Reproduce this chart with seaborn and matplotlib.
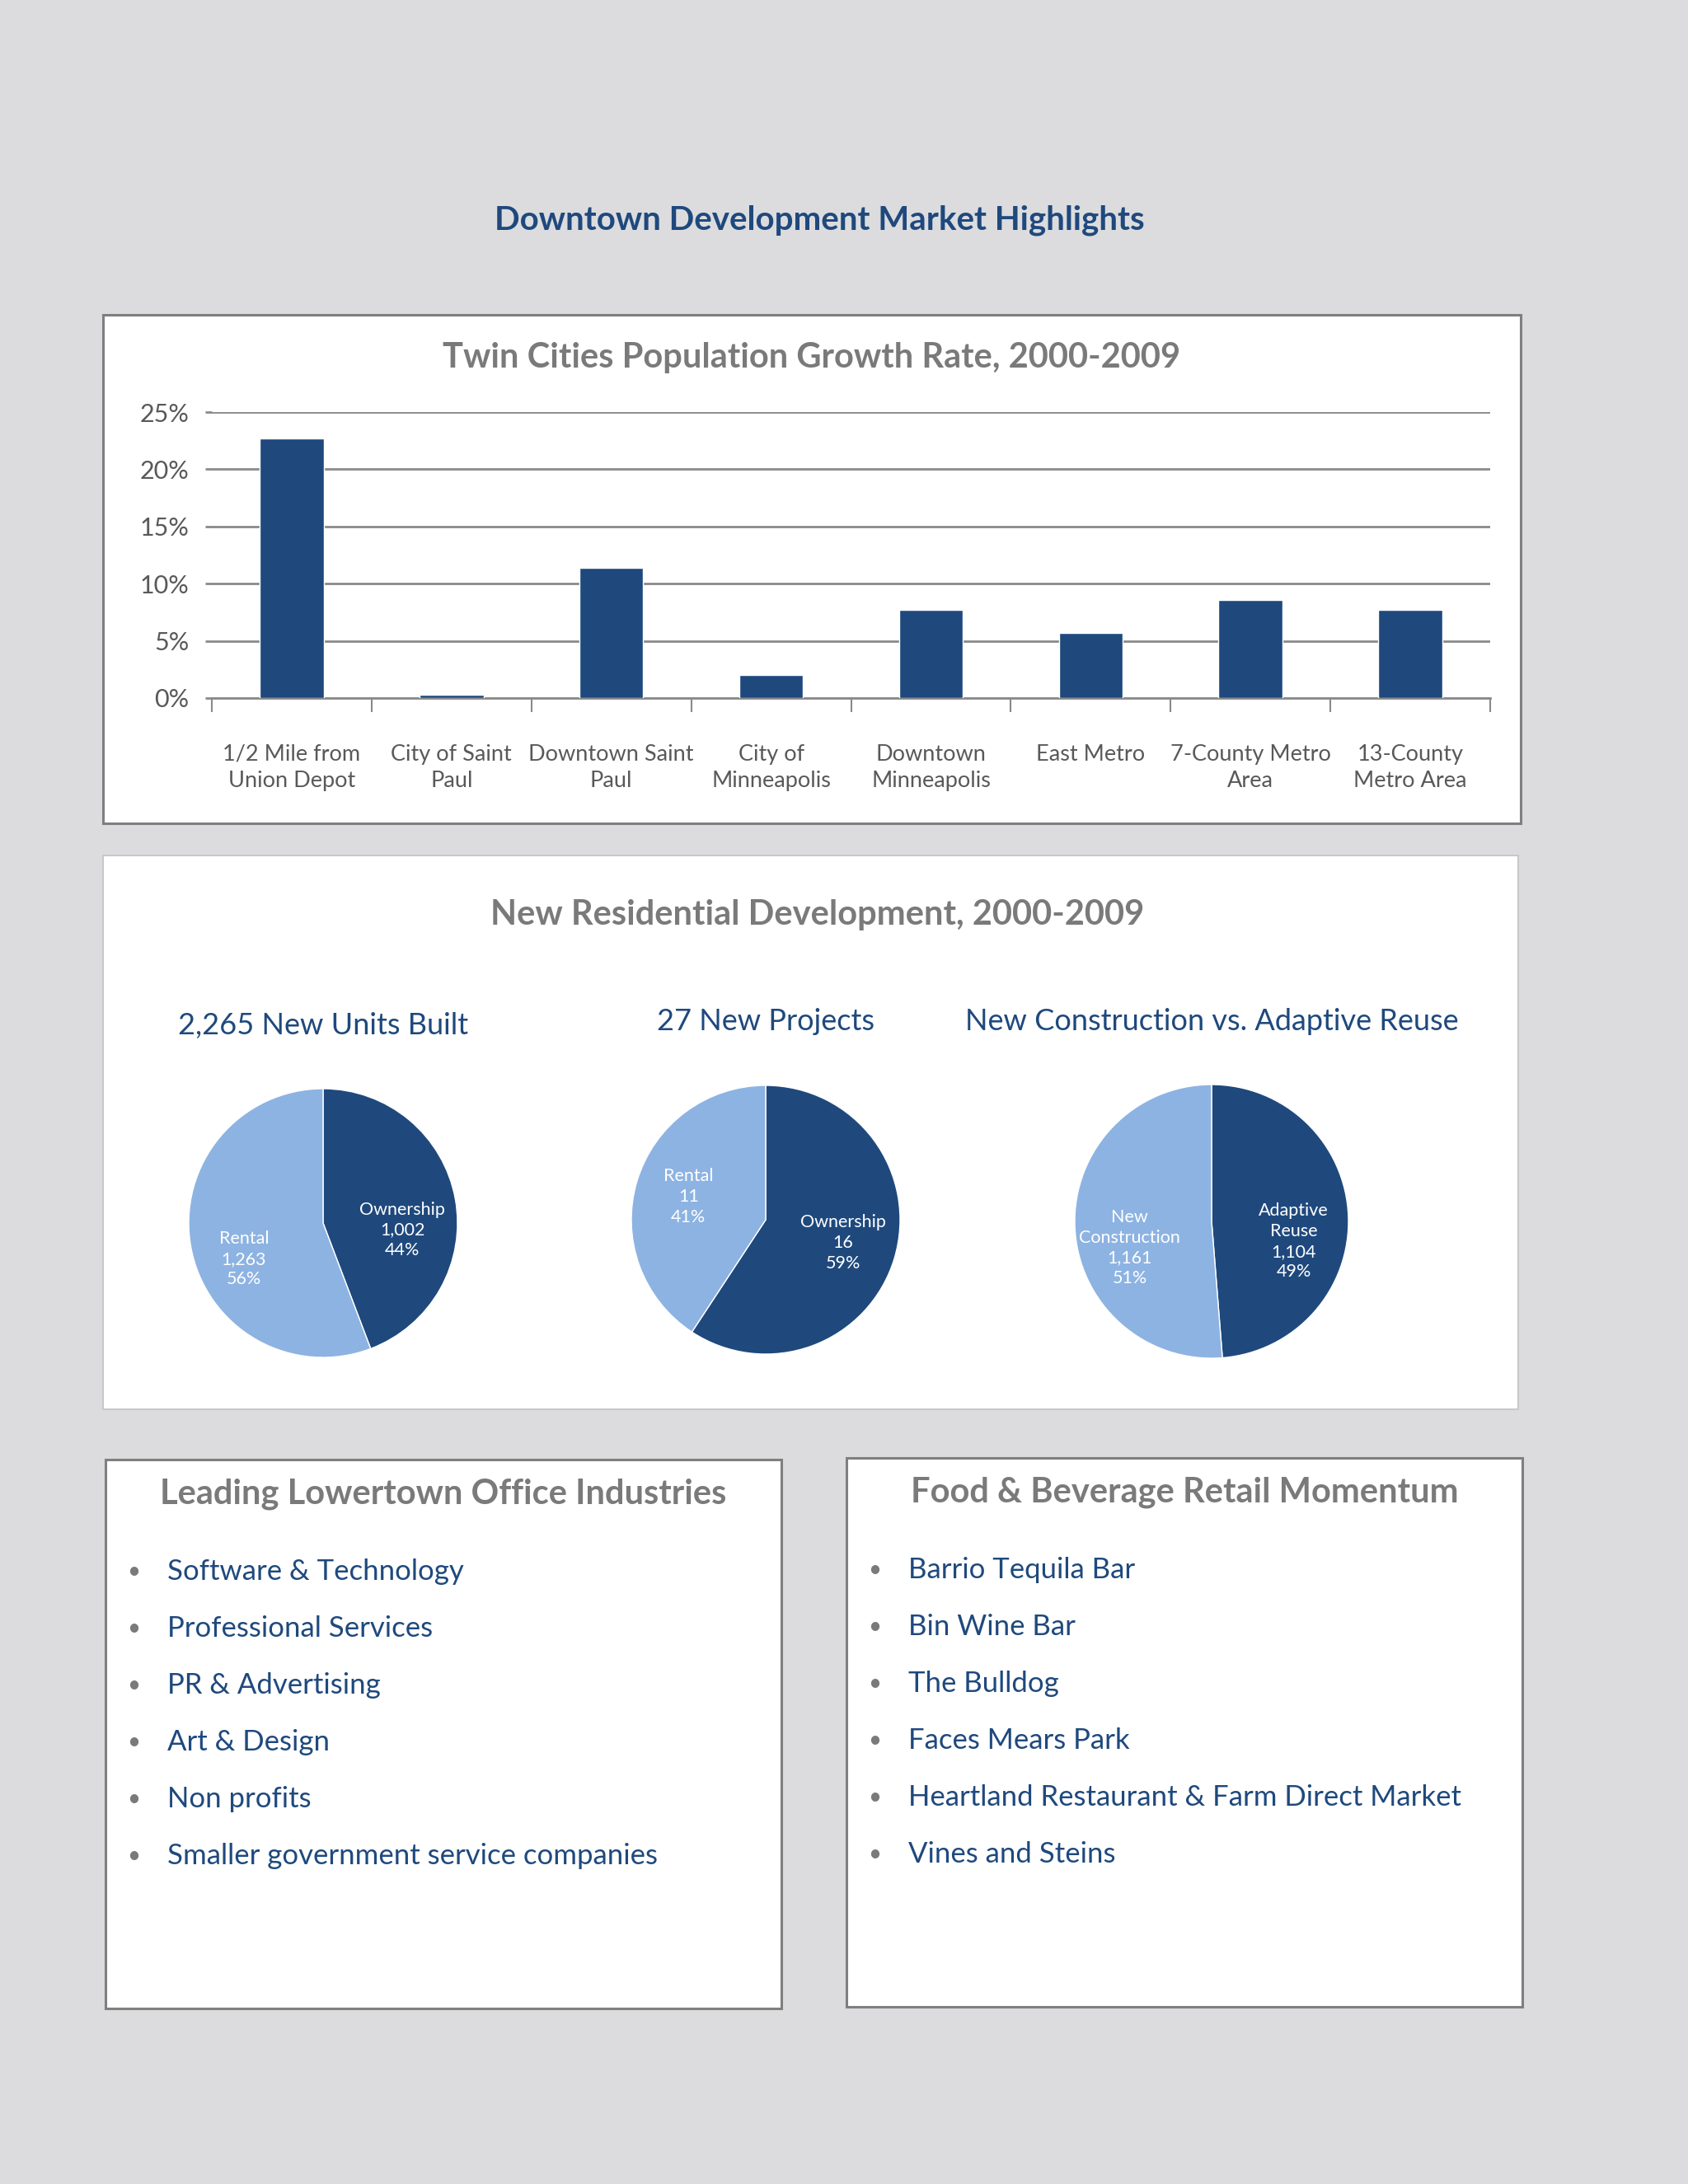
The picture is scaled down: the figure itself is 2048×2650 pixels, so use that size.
"""
Downtown Development Market Highlights - recreación de la ficha
"""

import numpy as np
import matplotlib
matplotlib.use("Agg")
import matplotlib.pyplot as plt
from matplotlib.patches import Rectangle
import seaborn as sns

# ── Datos ─────────────────────────────────────────────────────────────────────
AREAS = ["1/2 Mile from\nUnion Depot", "City of Saint\nPaul", "Downtown Saint\nPaul",
         "City of\nMinneapolis", "Downtown\nMinneapolis", "East Metro",
         "7-County Metro\nArea", "13-County\nMetro Area"]
GROWTH = [22.7, 0.3, 11.4, 2.0, 7.7, 5.7, 8.6, 7.7]

UNITS_LABELS = ["Ownership", "Rental"]
UNITS_VALUES = [1002, 1263]

PROJ_LABELS = ["Ownership", "Rental"]
PROJ_VALUES = [16, 11]

REUSE_LABELS = ["Adaptive\nReuse", "New\nConstruction"]
REUSE_VALUES = [1104, 1161]

OFFICE_ITEMS = ["Software & Technology", "Professional Services", "PR & Advertising",
                "Art & Design", "Non profits", "Smaller government service companies"]
FOOD_ITEMS = ["Barrio Tequila Bar", "Bin Wine Bar", "The Bulldog", "Faces Mears Park",
              "Heartland Restaurant & Farm Direct Market", "Vines and Steins"]

# ── Estilo ────────────────────────────────────────────────────────────────────
W, H = 2048, 2650
BG = "#DCDCDE"
NAVY = "#1F497D"
LIGHT = "#8DB3E2"
GRAY_T = "#7A7A7A"
GRID = "#8A8A8A"

sns.set_theme(style="white")
plt.rcParams["font.family"] = ["Lato", "DejaVu Sans"]


def fx(x):
    return x / W


def fy(y):
    return 1 - y / H


def caja(fig, x, y, w, h, edge, lw=2.0):
    fig.add_artist(Rectangle((fx(x), fy(y + h)), w / W, h / H,
                             transform=fig.transFigure, facecolor="white",
                             edgecolor=edge, linewidth=lw, zorder=-1))


def pie_panel(fig, cx, cy, r, labels, values, dy=-0.12):
    ax = fig.add_axes([fx(cx - r), fy(cy + r), 2 * r / W, 2 * r / H])
    wedges, _ = ax.pie(values, colors=[NAVY, LIGHT], startangle=90,
                       counterclock=False, radius=1.0)
    total = sum(values)
    for wdg, lab, val in zip(wedges, labels, values):
        ang = np.deg2rad((wdg.theta1 + wdg.theta2) / 2)
        x, y = 0.6 * np.cos(ang), 0.6 * np.sin(ang) + dy
        ax.text(x, y, f"{lab}\n{val:,}\n{val / total * 100:.0f}%",
                ha="center", va="center", color="white", fontsize=15.5,
                linespacing=1.3)
    ax.set_xlim(-1, 1)
    ax.set_ylim(-1, 1)
    ax.set_aspect("equal")
    ax.axis("off")
    return ax


fig = plt.figure(figsize=(W / 100, H / 100), dpi=100, facecolor=BG)

fig.text(fx(994), fy(267), "Downtown Development Market Highlights",
         ha="center", va="center", fontsize=29, fontweight="bold", color=NAVY)

# ── Panel 1: barras ───────────────────────────────────────────────────────────
caja(fig, 125, 382, 1720, 617, "#7F7F7F", 2.2)
fig.text(fx(985), fy(434), "Twin Cities Population Growth Rate, 2000-2009",
         ha="center", va="center", fontsize=30, fontweight="bold", color=GRAY_T)

ax = fig.add_axes([fx(257), fy(847), (1808 - 257) / W, (847 - 500) / H])
ax.set_facecolor("none")
sns.barplot(x=AREAS, y=GROWTH, color=NAVY, width=0.4, saturation=1, ax=ax, zorder=3)
ax.set_ylim(0, 25)
ax.set_xlim(-0.5, len(AREAS) - 0.5)
ax.set_yticks(range(0, 26, 5))
ax.set_yticklabels([f"{t}%" for t in range(0, 26, 5)])
ax.yaxis.grid(True, color=GRID, linewidth=2, zorder=0)
ax.set_axisbelow(True)
for s in ["top", "left", "right"]:
    ax.spines[s].set_visible(False)
ax.spines["bottom"].set_color(GRID)
ax.spines["bottom"].set_linewidth(2)
ax.set_xticks(np.arange(-0.5, len(AREAS), 1), minor=True)
ax.tick_params(axis="x", which="major", length=0, pad=40, labelsize=19.5,
               labelcolor="#595959")
ax.tick_params(axis="x", which="minor", length=12, width=1.5, color=GRID, bottom=True)
ax.tick_params(axis="y", length=6, width=2, color=GRID, pad=14, labelsize=22,
               labelcolor="#595959", left=True)
for t in ax.get_xticklabels():
    t.set_linespacing(1.35)
ax.set_xlabel("")
ax.set_ylabel("")

# ── Panel 2: tartas ───────────────────────────────────────────────────────────
caja(fig, 125, 1038, 1717, 672, "#C8C8C8", 1.5)
fig.text(fx(992), fy(1110), "New Residential Development, 2000-2009",
         ha="center", va="center", fontsize=30, fontweight="bold", color=GRAY_T)

fig.text(fx(392), fy(1244), "2,265 New Units Built", ha="center", va="center",
         fontsize=26, color=NAVY)
fig.text(fx(929), fy(1240), "27 New Projects", ha="center", va="center",
         fontsize=26, color=NAVY)
fig.text(fx(1470), fy(1239), "New Construction vs. Adaptive Reuse", ha="center",
         va="center", fontsize=26, color=NAVY)

pie_panel(fig, 392, 1484, 163, UNITS_LABELS, UNITS_VALUES, dy=-0.16)
pie_panel(fig, 929, 1480, 163, PROJ_LABELS, PROJ_VALUES, dy=0.0)
pie_panel(fig, 1470, 1482, 166, REUSE_LABELS, REUSE_VALUES, dy=-0.17)

# ── Paneles 3 y 4: listas ─────────────────────────────────────────────────────
for (bx, by, titulo, items) in [(128, 1771, "Leading Lowertown Office Industries", OFFICE_ITEMS),
                                (1027, 1769, "Food & Beverage Retail Momentum", FOOD_ITEMS)]:
    caja(fig, bx, by, 820, 666, "#7F7F7F", 2.2)
    fig.text(fx(bx + 410), fy(by + 42), titulo, ha="center", va="center",
             fontsize=30, fontweight="bold", color=GRAY_T)
    for i, it in enumerate(items):
        yy = by + 136 + i * 69
        fig.text(fx(bx + 34), fy(yy), "\u2022", ha="center", va="center",
                 fontsize=20, color=GRAY_T)
        fig.text(fx(bx + 75), fy(yy), it, ha="left", va="center",
                 fontsize=25, color=NAVY)

fig.savefig("out.png", dpi=100, facecolor=BG)
